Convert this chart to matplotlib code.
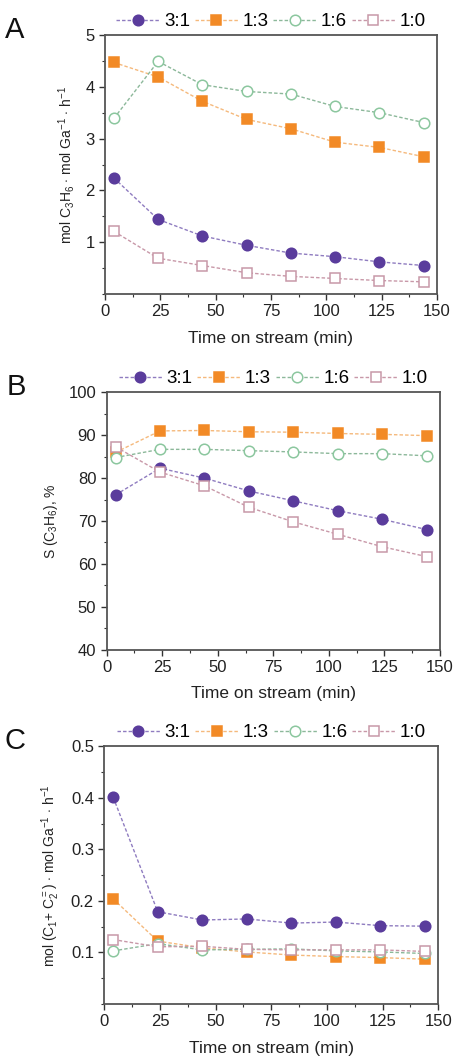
import matplotlib
matplotlib.use("Agg")
import matplotlib.pyplot as plt
from matplotlib.ticker import MultipleLocator

plt.rcParams['font.family'] = ['Liberation Sans', 'DejaVu Sans']
plt.rcParams['mathtext.fontset'] = 'custom'
plt.rcParams['mathtext.rm'] = 'Liberation Sans'
plt.rcParams['mathtext.it'] = 'Liberation Sans:italic'

time = [4, 24, 44, 64, 84, 104, 124, 144]
series = ["3:1", "1:3", "1:6", "1:0"]

a_31 = [2.24, 1.44, 1.12, 0.94, 0.79, 0.72, 0.62, 0.55]
a_13 = [4.47, 4.19, 3.72, 3.37, 3.19, 2.93, 2.83, 2.65]
a_16 = [3.39, 4.49, 4.04, 3.91, 3.86, 3.62, 3.50, 3.31]
a_10 = [1.21, 0.69, 0.55, 0.41, 0.34, 0.30, 0.26, 0.235]

b_31 = [76.1, 82.3, 80.0, 77.0, 74.7, 72.4, 70.4, 68.0]
b_13 = [86.0, 91.0, 91.1, 90.8, 90.7, 90.4, 90.2, 89.9]
b_16 = [84.8, 86.7, 86.7, 86.4, 86.1, 85.7, 85.7, 85.2]
b_10 = [87.3, 81.4, 78.2, 73.2, 69.8, 66.9, 64.0, 61.7]

c_31 = [0.401, 0.179, 0.163, 0.165, 0.157, 0.159, 0.152, 0.151]
c_13 = [0.204, 0.122, 0.109, 0.101, 0.095, 0.092, 0.090, 0.087]
c_16 = [0.103, 0.117, 0.105, 0.106, 0.107, 0.103, 0.101, 0.098]
c_10 = [0.125, 0.111, 0.112, 0.106, 0.105, 0.105, 0.105, 0.102]

styles = {
    "3:1": dict(marker='o', mfc='#5a3c9c', mec='#5a3c9c', color='#8f7cc0', ms=7.6),
    "1:3": dict(marker='s', mfc='#f28a26', mec='#f28a26', color='#f5b97c', ms=6.8),
    "1:6": dict(marker='o', mfc='white', mec='#8cc79f', color='#8cb89a', ms=7.6),
    "1:0": dict(marker='s', mfc='white', mec='#c898a8', color='#c898a8', ms=6.8),
}

fig = plt.figure(figsize=(4.55, 10.6), dpi=100)
W, H = 455, 1060

def add_axes(l, r, t, b):
    return fig.add_axes([l / W, 1 - b / H, (r - l) / W, (b - t) / H])

panels = [
    dict(box=(105, 437, 35, 294), data=[a_31, a_13, a_16, a_10], ylim=(0, 5),
         major=1, minor=0.5, ticks=[1, 2, 3, 4, 5], fmt="{:g}",
         ylabel=r"mol C$_3$H$_6$ $\cdot$ mol Ga$^{-1}$ $\cdot$ h$^{-1}$", letter="A"),
    dict(box=(106.7, 440, 392.3, 649.7), data=[b_31, b_13, b_16, b_10], ylim=(40, 100),
         major=10, minor=5, ticks=[40, 50, 60, 70, 80, 90, 100], fmt="{:g}",
         ylabel=r"S (C$_3$H$_6$), %", letter="B"),
    dict(box=(104.3, 438.3, 746.3, 1004), data=[c_31, c_13, c_16, c_10], ylim=(0, 0.5),
         major=0.1, minor=0.05, ticks=[0.1, 0.2, 0.3, 0.4, 0.5], fmt="{:.1f}",
         ylabel=r"mol (C$_1$+ C$_2^{=}$) $\cdot$ mol Ga$^{-1}$ $\cdot$ h$^{-1}$", letter="C"),
]

for p in panels:
    ax = add_axes(*p["box"])
    handles = []
    for name, vals in zip(series, p["data"]):
        st = styles[name]
        h, = ax.plot(time, vals, linestyle=(0, (2.5, 1.5)), lw=1.0, color=st['color'],
                     marker=st['marker'], markersize=st['ms'], markerfacecolor=st['mfc'],
                     markeredgecolor=st['mec'], markeredgewidth=1.1, label=name)
        handles.append(h)
    ax.set_xlim(0, 150)
    ax.set_ylim(*p["ylim"])
    ax.set_xticks([0, 25, 50, 75, 100, 125, 150])
    ax.xaxis.set_minor_locator(MultipleLocator(12.5))
    ax.set_yticks(p["ticks"])
    ax.set_yticklabels([p["fmt"].format(t) for t in p["ticks"]])
    ax.yaxis.set_minor_locator(MultipleLocator(p["minor"]))
    ax.tick_params(axis='both', which='major', direction='out', length=4, width=1,
                   labelsize=12, colors='#333333', labelcolor='#222222')
    ax.tick_params(axis='both', which='minor', direction='out', length=2.5, width=0.8,
                   colors='#333333')
    for s in ax.spines.values():
        s.set_color('#555555')
        s.set_linewidth(1.3)
    ax.set_xlabel("Time on stream (min)", fontsize=12.5, color='#222222', labelpad=8)
    ax.set_ylabel(p["ylabel"], fontsize=10, color='#222222', labelpad=6)
    ax.legend(handles=handles, loc='lower center', bbox_to_anchor=(0.5, 0.99), ncol=4,
              frameon=False, fontsize=13.5, handlelength=2.3, handletextpad=0.25,
              columnspacing=0.25, borderaxespad=0.0, markerscale=1.0)
    ax.text(-0.30, 1.02, p["letter"], transform=ax.transAxes, fontsize=21,
            ha='left', va='center', color='#111111')

fig.savefig("out.png", dpi=100)
